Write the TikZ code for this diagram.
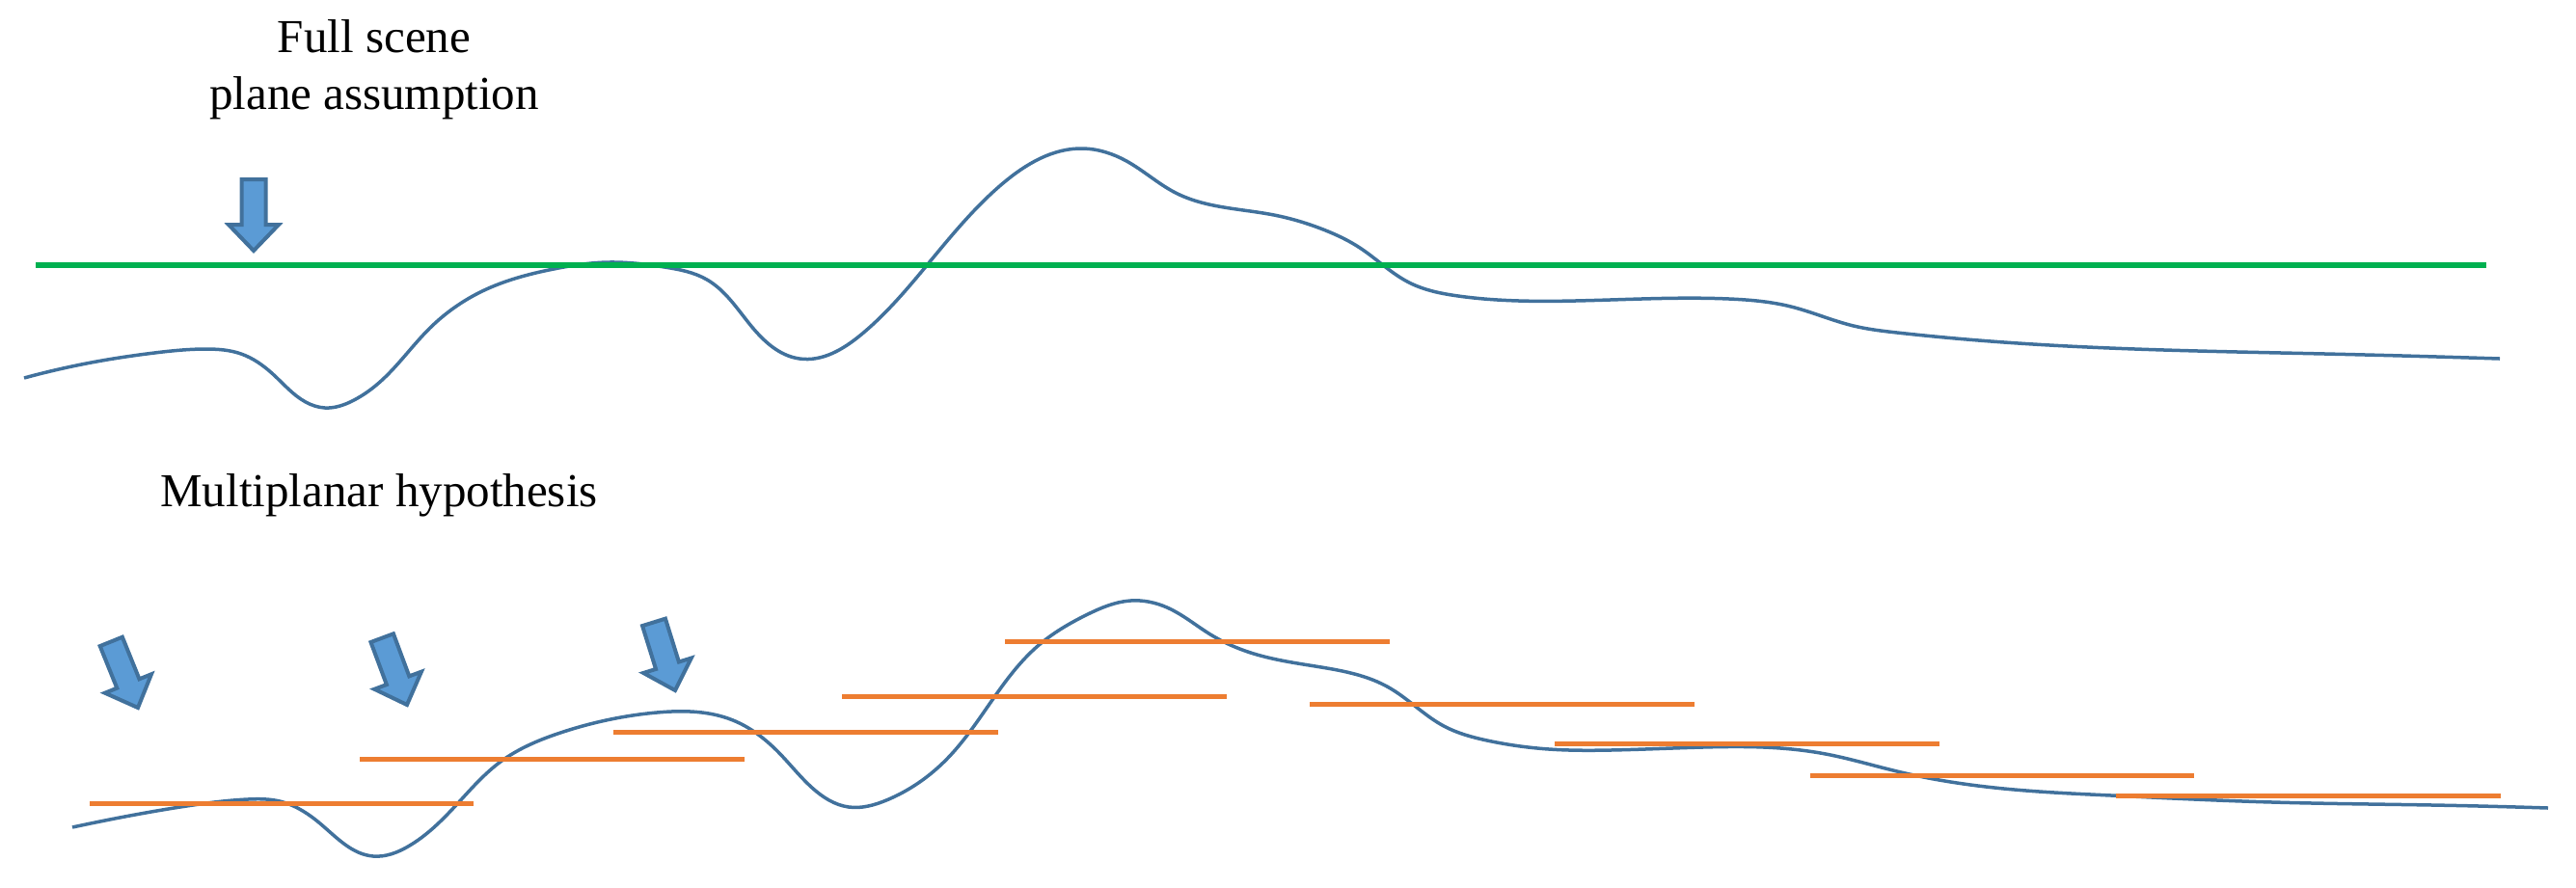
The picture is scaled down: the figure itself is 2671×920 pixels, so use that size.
\documentclass[tikz,border=0pt]{standalone}
\usepackage{fontspec}
\setmainfont{Liberation Serif}
\usetikzlibrary{hobby}
\definecolor{curveblue}{HTML}{41719C}
\definecolor{arrowfill}{HTML}{5B9BD5}
\definecolor{planegreen}{HTML}{00B050}
\definecolor{planeorange}{HTML}{ED7D31}
\tikzset{
  surface/.style={draw=curveblue, line width=0.035cm, line join=round, use Hobby shortcut},
  fullplane/.style={draw=planegreen, line width=0.06cm},
  localplane/.style={draw=planeorange, line width=0.05cm},
  blockarrow/.style={draw=curveblue, fill=arrowfill, line width=0.04cm, line join=miter},
  label/.style={font=\fontsize{13.94pt}{16.8pt}\selectfont, inner sep=0pt, align=center}
}
\newcommand{\viewarrow}[3]{%
  \begin{scope}[shift={(#1,#2)}, rotate=#3]
    \path[blockarrow] (0,0) -- (26,-27) -- (12.5,-27) -- (12.5,-74) -- (-12.5,-74) -- (-12.5,-27) -- (-26,-27) -- cycle;
  \end{scope}}
\begin{document}
\begin{tikzpicture}[x=0.01cm, y=-0.01cm]
\useasboundingbox (0,0) rectangle (2671,920);

% texts
\node[label, anchor=north] (fulltext) at (388,20) {Full scene\\plane assumption};
\node[label, anchor=base] (multitext) at (393,525) {Multiplanar hypothesis};

% top: surface and single plane
\draw[surface] (25,392) .. (100,375) .. (160,366) .. (213,362) .. (250,367) .. (283,388)
 .. (317,417) .. (337,423) .. (367,415) .. (393,397) .. (446,340) .. (500,302) .. (574,279)
 .. (631,272) .. (689,277) .. (733,290) .. (778,337) .. (829,372) .. (893,347) .. (957,280)
 .. (1040,190) .. (1123,154) .. (1168,167) .. (1219,200) .. (1321,223) .. (1372,238)
 .. (1410,257) .. (1461,293) .. (1512,307) .. (1633,312) .. (1793,310) .. (1857,318)
 .. (1922,338) .. (1967,345) .. (2078,355) .. (2244,363) .. (2411,367) .. (2592,372);
\coordinate (gl) at (37,275);
\coordinate (gr) at (2578,275);
\draw[fullplane] (gl) -- (gr);
\viewarrow{263}{260}{0}

% bottom: surface and local planes
\draw[surface] (75,858) .. (140,845) .. (200,835) .. (257,829) .. (290,831) .. (333,855)
 .. (387,888) .. (423,878) .. (473,835) .. (519,790) .. (581,760) .. (681,739) .. (760,747)
 .. (807,780) .. (842,817) .. (880,837) .. (919,830) .. (982,787) .. (1076,670) .. (1128,637)
 .. (1172,623) .. (1210,630) .. (1255,658) .. (1300,678) .. (1370,692) .. (1440,713)
 .. (1497,753) .. (1542,768) .. (1606,777) .. (1670,778) .. (1765,775) .. (1829,775)
 .. (1893,782) .. (1967,800) .. (2078,818) .. (2189,825) .. (2356,832) .. (2522,835) .. (2642,838);

\foreach \xa/\xb/\yy [count=\i] in {93/491/833, 373/772/787, 636/1035/759, 873/1272/722,
  1042/1441/665, 1358/1757/730, 1612/2011/771, 1877/2275/804, 2194/2593/825}{
  \coordinate (p\i a) at (\xa,\yy);
  \coordinate (p\i b) at (\xb,\yy);
  \draw[localplane] (p\i a) -- (p\i b);
}
\viewarrow{143}{734}{22}
\viewarrow{422}{731}{20.4}
\viewarrow{700}{716}{17.3}
\end{tikzpicture}
\end{document}
